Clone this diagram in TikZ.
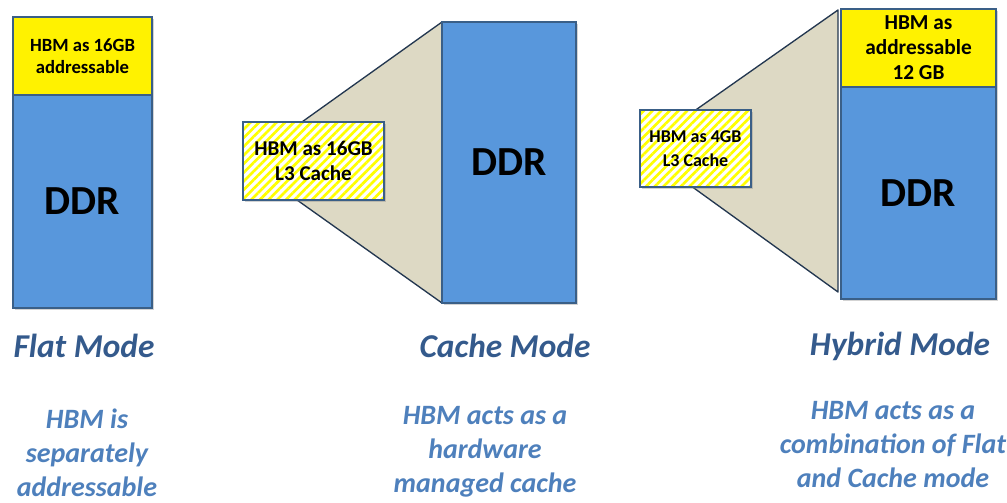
\documentclass[tikz,border=0pt]{standalone}
\usepackage{fontspec}
\setmainfont{Carlito}
\usetikzlibrary{shadows,patterns.meta}

\definecolor{ddrblue}{RGB}{88,151,220}
\definecolor{edgeblue}{RGB}{58,95,135}
\definecolor{conebeige}{RGB}{221,217,196}
\definecolor{conedge}{RGB}{35,55,80}
\definecolor{titleblue}{RGB}{52,90,140}
\definecolor{noteblue}{RGB}{78,128,188}

\begin{document}
\begin{tikzpicture}[x=0.75pt,y=-0.75pt,
    box/.style={draw=edgeblue, line width=0.8pt, inner sep=0pt, align=center,
        drop shadow={shadow xshift=1.5pt, shadow yshift=-1.5pt, opacity=0.35}},
    ddrbox/.style={box, fill=ddrblue, font=\fontsize{31}{37}\selectfont\bfseries},
    hbmbox/.style={box, fill=yellow},
    cachebox/.style={box, fill=white,
        postaction={pattern={Lines[angle=45,distance=4.6pt,line width=2pt]}, pattern color=yellow},
        postaction={draw=edgeblue, line width=0.8pt}},
    cone/.style={fill=conebeige, draw=conedge, line width=1pt, line join=round},
    modetitle/.style={text=titleblue, font=\fontsize{25}{30}\selectfont\bfseries\itshape},
    modenote/.style={text=noteblue, align=center, font=\fontsize{21}{25.5}\selectfont\bfseries\itshape}]

    \useasboundingbox (0,0) rectangle (1007,503);

    % Flat mode: HBM on top of DDR
    \node[hbmbox, minimum width=104.25pt, minimum height=58.5pt,
        font=\fontsize{14}{16.5}\selectfont\bfseries] (flathbm) at (82.5,56) {HBM as 16GB\\addressable};
    \node[ddrbox, minimum width=104.25pt, minimum height=159.75pt] (flatddr) at (82.5,201.5) {DDR};

    % Cache mode: cone from the cache to DDR
    \draw[cone] (290,130.5) -- (442,22) -- (442,303) -- (290,195) -- cycle;
    \node[ddrbox, minimum width=100.5pt, minimum height=210.75pt] (cacheddr) at (509,162.5) {DDR};
    \node[cachebox, minimum width=105.75pt, minimum height=58.5pt,
        font=\fontsize{15.8}{18.8}\selectfont\bfseries] (cachehbm) at (313.5,161) {HBM as 16GB\\L3 Cache};

    % Hybrid mode: part cache, part addressable
    \draw[cone] (680,121) -- (838,10) -- (838,292) -- (680,178) -- cycle;
    \node[hbmbox, minimum width=116.25pt, minimum height=58.5pt,
        font=\fontsize{16}{18.8}\selectfont\bfseries] (hybridhbm) at (918.5,48) {HBM as\\addressable\\12 GB};
    \node[ddrbox, minimum width=116.25pt, minimum height=159pt] (hybridddr) at (918.5,193) {DDR};
    \node[cachebox, minimum width=83.25pt, minimum height=57.75pt,
        font=\fontsize{13.5}{18}\selectfont\bfseries] (hybridcache) at (695.5,148.5) {HBM as 4GB\\L3 Cache};

    % Mode names
    \node[modetitle] (flatname) at (84,346) {Flat Mode};
    \node[modetitle] (cachename) at (505,346) {Cache Mode};
    \node[modetitle] (hybridname) at (900,346) {Hybrid Mode};

    % What each mode does
    \node[modenote] (flatnote) at (87,453) {HBM is\\separately\\addressable};
    \node[modenote] (cachenote) at (485,452) {HBM acts as a\\hardware\\managed cache};
    \node[modenote] (hybridnote) at (893,445) {HBM acts as a\\combination of Flat\\and Cache mode};

\end{tikzpicture}
\end{document}
